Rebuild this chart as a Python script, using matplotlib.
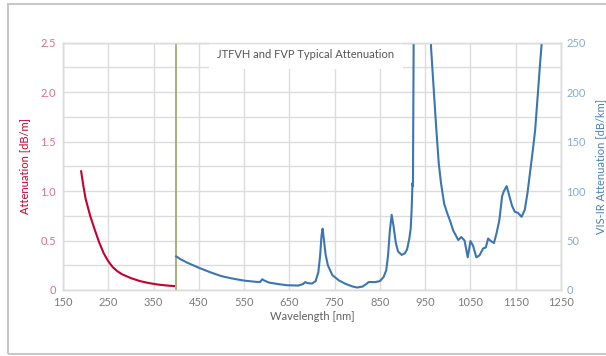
import matplotlib
matplotlib.use('Agg')
import matplotlib.pyplot as plt
from matplotlib.patches import Rectangle
from matplotlib.ticker import MultipleLocator, FuncFormatter

plt.rcParams['font.family'] = ['Lato', 'DejaVu Sans']

# UV attenuation (dB/m), left axis
uv_nm = [190, 195, 200, 210, 220, 230, 240, 250, 260, 270, 280, 300, 320, 340, 360, 380, 395]
uv_att = [1.20, 1.05, 0.92, 0.75, 0.61, 0.48, 0.37, 0.29, 0.23, 0.19, 0.16, 0.12, 0.09, 0.07, 0.055, 0.045, 0.04]

# VIS-IR attenuation (dB/km), right axis
ir_nm = [400, 410, 425, 450, 475, 500, 525, 550, 575, 585, 590, 595, 605, 625, 645, 670,
         680, 685, 690, 700, 708, 714, 718, 721, 723.5, 726, 730, 735, 745, 760, 775, 790,
         800, 812, 820, 825, 840, 850, 858, 864, 868, 872, 876, 880, 885, 890, 898, 905,
         910, 915, 918, 920, 922, 923, 924, 925, 930, 940, 955, 960, 963, 970, 975, 980,
         985, 992, 1000, 1005, 1012, 1018, 1023, 1030, 1037, 1044, 1050, 1056, 1063, 1070,
         1078, 1084, 1089, 1095, 1102, 1108, 1114, 1120, 1124, 1130, 1136, 1142, 1148, 1155,
         1163, 1170, 1176, 1182, 1188, 1193, 1200, 1204, 1207.5, 1212]
ir_att = [34, 31, 27.5, 22.5, 18, 14, 11.5, 9.5, 8.3, 8, 10.8, 9.5, 7.5, 6, 4.8, 4.5,
          6, 8, 7, 6.5, 9, 18, 35, 55, 62, 52, 36, 25, 15, 9.5, 6, 3.5,
          2.5, 3.5, 6, 8, 8, 9, 13, 20, 35, 60, 76, 65, 48, 39, 35.5, 37,
          41, 52, 62, 80, 108, 105, 200, 300, 700, 900, 600, 300, 245, 195, 160, 128,
          108, 87, 76, 70, 60, 55, 50.5, 53.5, 50, 33, 49.5, 44.5, 33, 35,
          42, 43, 52, 49.5, 47.5, 58, 71, 95, 100, 105, 95, 85, 79, 78,
          74, 81, 98, 120, 142, 162, 205, 230, 250, 290]

grid_c = '#dcdcdc'

fig = plt.figure(figsize=(6.06, 3.56), dpi=100)
ax = fig.add_axes([0.104, 0.1854, 0.8217, 0.6946])
ax2 = ax.twinx()

ax.plot(uv_nm, uv_att, color='#c4002f', lw=1.5)
ax.axvline(400, color='#a3aa6e', lw=1.3, zorder=4)
ax2.plot(ir_nm, ir_att, color='#3c76b0', lw=1.5)

ax.set_xlim(150, 1250)
ax.set_ylim(0, 2.5)
ax2.set_ylim(0, 250)
ax.set_xticks(range(150, 1251, 100))
ax.yaxis.set_major_locator(MultipleLocator(0.5))
ax.yaxis.set_minor_locator(MultipleLocator(0.25))
ax.yaxis.set_major_formatter(FuncFormatter(lambda v, p: '0' if v == 0 else f'{v:.1f}'))
ax2.yaxis.set_major_locator(MultipleLocator(50))

ax.grid(True, which='both', color=grid_c, lw=1)
ax.set_axisbelow(True)
for a in (ax, ax2):
    for s in a.spines.values():
        s.set_color(grid_c)
        s.set_linewidth(1)

ax.tick_params(axis='x', length=0, pad=5, labelsize=8, labelcolor='#7a7a7a')
ax.tick_params(axis='y', which='both', length=0, pad=5, labelsize=8, labelcolor='#dc6f88')
ax2.tick_params(axis='y', length=0, pad=4, labelsize=8, labelcolor='#86acd4')

ax.set_xlabel('Wavelength [nm]', fontsize=8, color='#606060', labelpad=2)
ax.set_ylabel('Attenuation [dB/m]', fontsize=8, color='#c4002f')
ax.yaxis.set_label_coords(-0.066, 0.5)
ax2.set_ylabel('VIS-IR Attenuation [dB/km]', fontsize=8, color='#4a80b8')
ax2.yaxis.set_label_coords(1.068, 0.5)

ax.text(0.488, 0.951, 'JTFVH and FVP Typical Attenuation', transform=ax.transAxes,
        ha='center', va='center', fontsize=8, color='#555555', zorder=3,
        bbox=dict(facecolor='white', edgecolor='none', pad=6))

fig.add_artist(Rectangle((8 / 606, 2 / 356), 1.0, 350 / 356, transform=fig.transFigure,
                         fill=False, edgecolor='#c8c8c8', lw=1.5))

fig.savefig('out.png', dpi=100)
